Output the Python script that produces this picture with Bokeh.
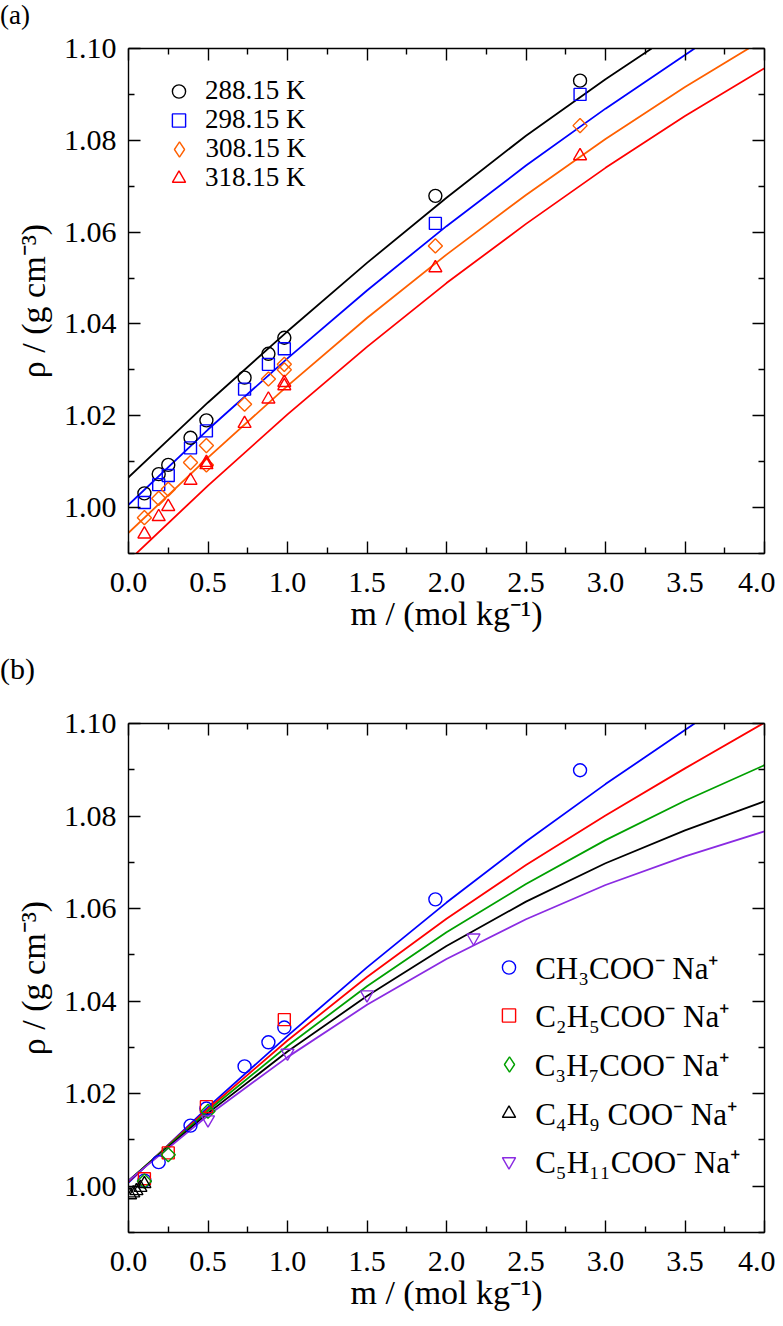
import numpy as np
from bokeh.plotting import figure
from bokeh.models import (Range1d, LinearAxis, FixedTicker, PrintfTickFormatter,
                          Legend, LegendItem, Div)
from bokeh.layouts import column
from bokeh.embed import file_html
from bokeh.resources import INLINE

FONT = "Liberation Serif"

# ---------------- panel (a): temperatures ----------------
temps = ["288.15 K", "298.15 K", "308.15 K", "318.15 K"]
m_288 = [0.10, 0.19, 0.25, 0.39, 0.49, 0.73, 0.88, 0.98, 1.93, 2.84]
rho_288 = [1.0031, 1.0073, 1.0093, 1.0152, 1.0190, 1.0283, 1.0335, 1.0370, 1.0679, 1.0930]
m_298 = [0.10, 0.19, 0.25, 0.39, 0.49, 0.73, 0.88, 0.98, 1.93, 2.84]
rho_298 = [1.0011, 1.0050, 1.0070, 1.0130, 1.0167, 1.0258, 1.0312, 1.0346, 1.0619, 1.0900]
m_308 = [0.10, 0.19, 0.25, 0.39, 0.49, 0.49, 0.73, 0.88, 0.98, 0.98, 1.93, 2.84]
rho_308 = [0.9978, 1.0020, 1.0040, 1.0098, 1.0135, 1.0093, 1.0225, 1.0280, 1.0312, 1.0300, 1.0570, 1.0832]
m_318 = [0.10, 0.19, 0.25, 0.39, 0.49, 0.49, 0.73, 0.88, 0.98, 0.98, 1.93, 2.84]
rho_318 = [0.9942, 0.9980, 1.0002, 1.0059, 1.0093, 1.0098, 1.0183, 1.0236, 1.0272, 1.0265, 1.0522, 1.0766]

# fitted curves
fit_m_288 = [0.0, 0.5, 1.0, 1.5, 2.0, 2.5, 3.0, 3.29]
fit_rho_288 = [1.0066, 1.0229, 1.0384, 1.0533, 1.0675, 1.0810, 1.0933, 1.1000]
fit_m_298 = [0.0, 0.5, 1.0, 1.5, 2.0, 2.5, 3.0, 3.5, 3.56]
fit_rho_298 = [1.0006, 1.0170, 1.0325, 1.0473, 1.0613, 1.0745, 1.0869, 1.0986, 1.1000]
fit_m_308 = [0.0, 0.5, 1.0, 1.5, 2.0, 2.5, 3.0, 3.5, 3.9]
fit_rho_308 = [0.9945, 1.0109, 1.0265, 1.0413, 1.0551, 1.0681, 1.0803, 1.0916, 1.1000]
fit_m_318 = [0.0, 0.5, 1.0, 1.5, 2.0, 2.5, 3.0, 3.5, 4.0]
fit_rho_318 = [0.9884, 1.0048, 1.0203, 1.0350, 1.0489, 1.0618, 1.0740, 1.0853, 1.0957]

# ---------------- panel (b): salts ----------------
salts = ["CH\u2083COO\u207b Na\u207a", "C\u2082H\u2085COO\u207b Na\u207a", "C\u2083H\u2087COO\u207b Na\u207a",
         "C\u2084H\u2089 COO\u207b Na\u207a", "C\u2085H\u2081\u2081COO\u207b Na\u207a"]
m_c1 = [0.10, 0.19, 0.39, 0.49, 0.73, 0.88, 0.98, 1.93, 2.84]
rho_c1 = [1.0012, 1.0052, 1.0131, 1.0168, 1.0259, 1.0311, 1.0343, 1.0620, 1.0899]
m_c2 = [0.10, 0.25, 0.49, 0.98]
rho_c2 = [1.0016, 1.0072, 1.0172, 1.0360]
m_c3 = [0.10, 0.25, 0.50]
rho_c3 = [1.0011, 1.0068, 1.0162]
m_c4 = [0.01, 0.03, 0.05, 0.075, 0.10]
rho_c4 = [0.9981, 0.9985, 0.9990, 0.9997, 1.0005]
m_c5 = [0.50, 1.00, 1.50, 2.17]
rho_c5 = [1.0144, 1.0288, 1.0414, 1.0537]

fit_m_b = [0.0, 0.5, 1.0, 1.5, 2.0, 2.5, 3.0, 3.5, 4.0]
fit_m_c1 = [0.0, 0.5, 1.0, 1.5, 2.0, 2.5, 3.0, 3.5, 3.56]
fit_rho_c1 = [1.0008, 1.0171, 1.0325, 1.0473, 1.0613, 1.0745, 1.0869, 1.0986, 1.1000]
fit_rho_c2 = [1.0010, 1.0167, 1.0315, 1.0452, 1.0578, 1.0694, 1.0801, 1.0903, 1.1002]
fit_rho_c3 = [1.0012, 1.0163, 1.0303, 1.0432, 1.0549, 1.0653, 1.0748, 1.0833, 1.0910]
fit_rho_c4 = [1.0012, 1.0158, 1.0291, 1.0411, 1.0519, 1.0615, 1.0698, 1.0769, 1.0832]
fit_rho_c5 = [1.0012, 1.0153, 1.0279, 1.0392, 1.0491, 1.0577, 1.0651, 1.0713, 1.0767]

x_ticks = [0.0, 0.5, 1.0, 1.5, 2.0, 2.5, 3.0, 3.5, 4.0]
x_minor = [0.25, 0.75, 1.25, 1.75, 2.25, 2.75, 3.25, 3.75]
y_ticks = [1.00, 1.02, 1.04, 1.06, 1.08, 1.10]
y_minor = [0.99, 1.01, 1.03, 1.05, 1.07, 1.09]

X_TITLE = "m / (mol kg\u207b\u00b9)"
Y_TITLE = "\u03c1 / (g cm\u207b\u00b3)"

C_BLACK = "#000000"
C_BLUE = "#0000ff"
C_ORANGE = "#ff6000"
C_RED = "#ff0000"
C_GREEN = "#00a000"
C_PURPLE = "#8a2be2"

TICK_FS = "30px"
TITLE_FS = "34px"

FRAME_LEFT = 128
FRAME_W = 636
FIG_W = FRAME_LEFT + FRAME_W + 11


def style_axis(ax, ticks, minors, fmt, labels=True, standoff=12):
    ax.ticker = FixedTicker(ticks=ticks, minor_ticks=minors)
    ax.formatter = PrintfTickFormatter(format=fmt)
    ax.major_tick_in = 12
    ax.major_tick_out = 0
    ax.minor_tick_in = 6
    ax.minor_tick_out = 0
    ax.axis_line_width = 1.4
    ax.major_tick_line_width = 1.4
    ax.minor_tick_line_width = 1.4
    ax.axis_line_color = "black"
    ax.major_tick_line_color = "black"
    ax.minor_tick_line_color = "black"
    ax.major_label_text_font = FONT
    if labels:
        ax.major_label_text_color = "black"
        ax.major_label_text_font_size = TICK_FS
        ax.major_label_standoff = standoff
    else:
        ax.major_label_text_color = None
        ax.major_label_text_font_size = "1px"
        ax.major_label_standoff = 0


def make_fig(height, border_top, border_bottom):
    p = figure(width=FIG_W, height=height,
               x_range=Range1d(0, 4), y_range=Range1d(0.99, 1.10),
               output_backend="svg", toolbar_location=None,
               min_border_left=FRAME_LEFT, min_border_right=11,
               min_border_top=border_top, min_border_bottom=border_bottom)
    p.xgrid.visible = False
    p.ygrid.visible = False
    p.outline_line_color = None
    style_axis(p.xaxis[0], x_ticks, x_minor, "%.1f", standoff=19)
    style_axis(p.yaxis[0], y_ticks, y_minor, "%.2f", standoff=12)
    p.xaxis[0].axis_label = X_TITLE
    p.yaxis[0].axis_label = Y_TITLE
    for ax in (p.xaxis[0], p.yaxis[0]):
        ax.axis_label_text_font = FONT
        ax.axis_label_text_font_size = TITLE_FS
        ax.axis_label_text_font_style = "normal"
        ax.axis_label_text_color = "black"
    p.xaxis[0].axis_label_standoff = 0
    p.yaxis[0].axis_label_standoff = 9
    top = LinearAxis()
    style_axis(top, x_ticks, x_minor, "%.1f", labels=False)
    p.add_layout(top, "above")
    right = LinearAxis()
    style_axis(right, y_ticks, y_minor, "%.2f", labels=False)
    p.add_layout(right, "right")
    return p


def tag_div(text, height, font_px, pad_top):
    html = ('<div style="font-family: \'Liberation Serif\'; font-size: %dpx; line-height: normal; '
            'color: black; padding-top: %dpx; margin: 0;">%s</div>' % (font_px, pad_top, text))
    return Div(text=html, width=80, height=height, margin=0)


def add_entry(p, frame_h, label, renderer, cx, cy, text_x, fs, gw=33):
    # cx, cy, text_x: positions of marker centre / text start relative to frame top-left (pixels)
    gh = 44
    vx = cx - gw / 2
    vy = frame_h - (cy + gh / 2)
    standoff = int(round(text_x - (vx + gw)))
    leg = Legend(items=[LegendItem(label=label, renderers=[renderer])],
                 location=(vx, vy), glyph_width=gw, glyph_height=gh, label_height=gh,
                 spacing=0, padding=0, margin=0, label_standoff=standoff,
                 border_line_color=None, background_fill_alpha=0,
                 label_text_font=FONT, label_text_font_size=fs,
                 label_text_color="black", label_text_baseline="middle")
    p.add_layout(leg)


LW = 1.8
MLW = 1.4

# ---------------- figure (a) ----------------
FH_A = 505
div_a = tag_div("(a)", 30, 27, 0)
pa = make_fig(610, 18, 87)
pa.line(fit_m_288, fit_rho_288, line_color=C_BLACK, line_width=LW)
pa.line(fit_m_298, fit_rho_298, line_color=C_BLUE, line_width=LW)
pa.line(fit_m_308, fit_rho_308, line_color=C_ORANGE, line_width=LW)
pa.line(fit_m_318, fit_rho_318, line_color=C_RED, line_width=LW)
ra1 = pa.scatter(m_288, rho_288, marker="circle", size=13, fill_color=None, line_color=C_BLACK, line_width=MLW)
ra2 = pa.scatter(m_298, rho_298, marker="square", size=12, fill_color=None, line_color=C_BLUE, line_width=MLW)
ra3 = pa.scatter(m_308, rho_308, marker="square", angle=np.pi / 4, size=10, fill_color=None,
                 line_color=C_ORANGE, line_width=MLW)
ra4 = pa.scatter(m_318, rho_318, marker="triangle", size=13, fill_color=None, line_color=C_RED, line_width=MLW)
# legend key for the diamonds (same data, not drawn in the frame)
pa_diamond_key = pa.scatter(m_308, rho_308, marker="diamond", fill_color=None, line_color=C_ORANGE,
                            line_width=MLW, visible=False)

leg_a_renderers = [ra1, ra2, pa_diamond_key, ra4]
for k, (t, r) in enumerate(zip(temps, leg_a_renderers)):
    add_entry(pa, FH_A, t, r, 50.5, 42.5 + 29.0 * k, 77, "27px",
              gw=(38 if r is pa_diamond_key else 33))

# ---------------- figure (b) ----------------
FH_B = 509
div_b = tag_div("(b)", 50, 30, 12)
pb = make_fig(626, 33, 84)
pb.line(fit_m_c1, fit_rho_c1, line_color=C_BLUE, line_width=LW)
pb.line(fit_m_b, fit_rho_c2, line_color=C_RED, line_width=LW)
pb.line(fit_m_b, fit_rho_c3, line_color=C_GREEN, line_width=LW)
pb.line(fit_m_b, fit_rho_c4, line_color=C_BLACK, line_width=LW)
pb.line(fit_m_b, fit_rho_c5, line_color=C_PURPLE, line_width=LW)
rb1 = pb.scatter(m_c1, rho_c1, marker="circle", size=13, fill_color=None, line_color=C_BLUE, line_width=MLW)
rb2 = pb.scatter(m_c2, rho_c2, marker="square", size=12, fill_color=None, line_color=C_RED, line_width=MLW)
rb3 = pb.scatter(m_c3, rho_c3, marker="square", angle=np.pi / 4, size=10, fill_color=None,
                 line_color=C_GREEN, line_width=MLW)
rb4 = pb.scatter(m_c4, rho_c4, marker="triangle", size=13, fill_color=None, line_color=C_BLACK, line_width=MLW)
rb5 = pb.scatter(m_c5, rho_c5, marker="inverted_triangle", size=13, fill_color=None,
                 line_color=C_PURPLE, line_width=MLW)
pb_diamond_key = pb.scatter(m_c3, rho_c3, marker="diamond", fill_color=None, line_color=C_GREEN,
                            line_width=MLW, visible=False)

leg_b_renderers = [rb1, rb2, pb_diamond_key, rb4, rb5]
for k, (s, r) in enumerate(zip(salts, leg_b_renderers)):
    add_entry(pb, FH_B, s, r, 380.7, 243.7 + 48.6 * k, 407, "31px",
              gw=(38 if r is pb_diamond_key else 33))

layout = column(div_a, pa, div_b, pb, spacing=0)
open("out.html", "w").write(file_html(layout, INLINE))
